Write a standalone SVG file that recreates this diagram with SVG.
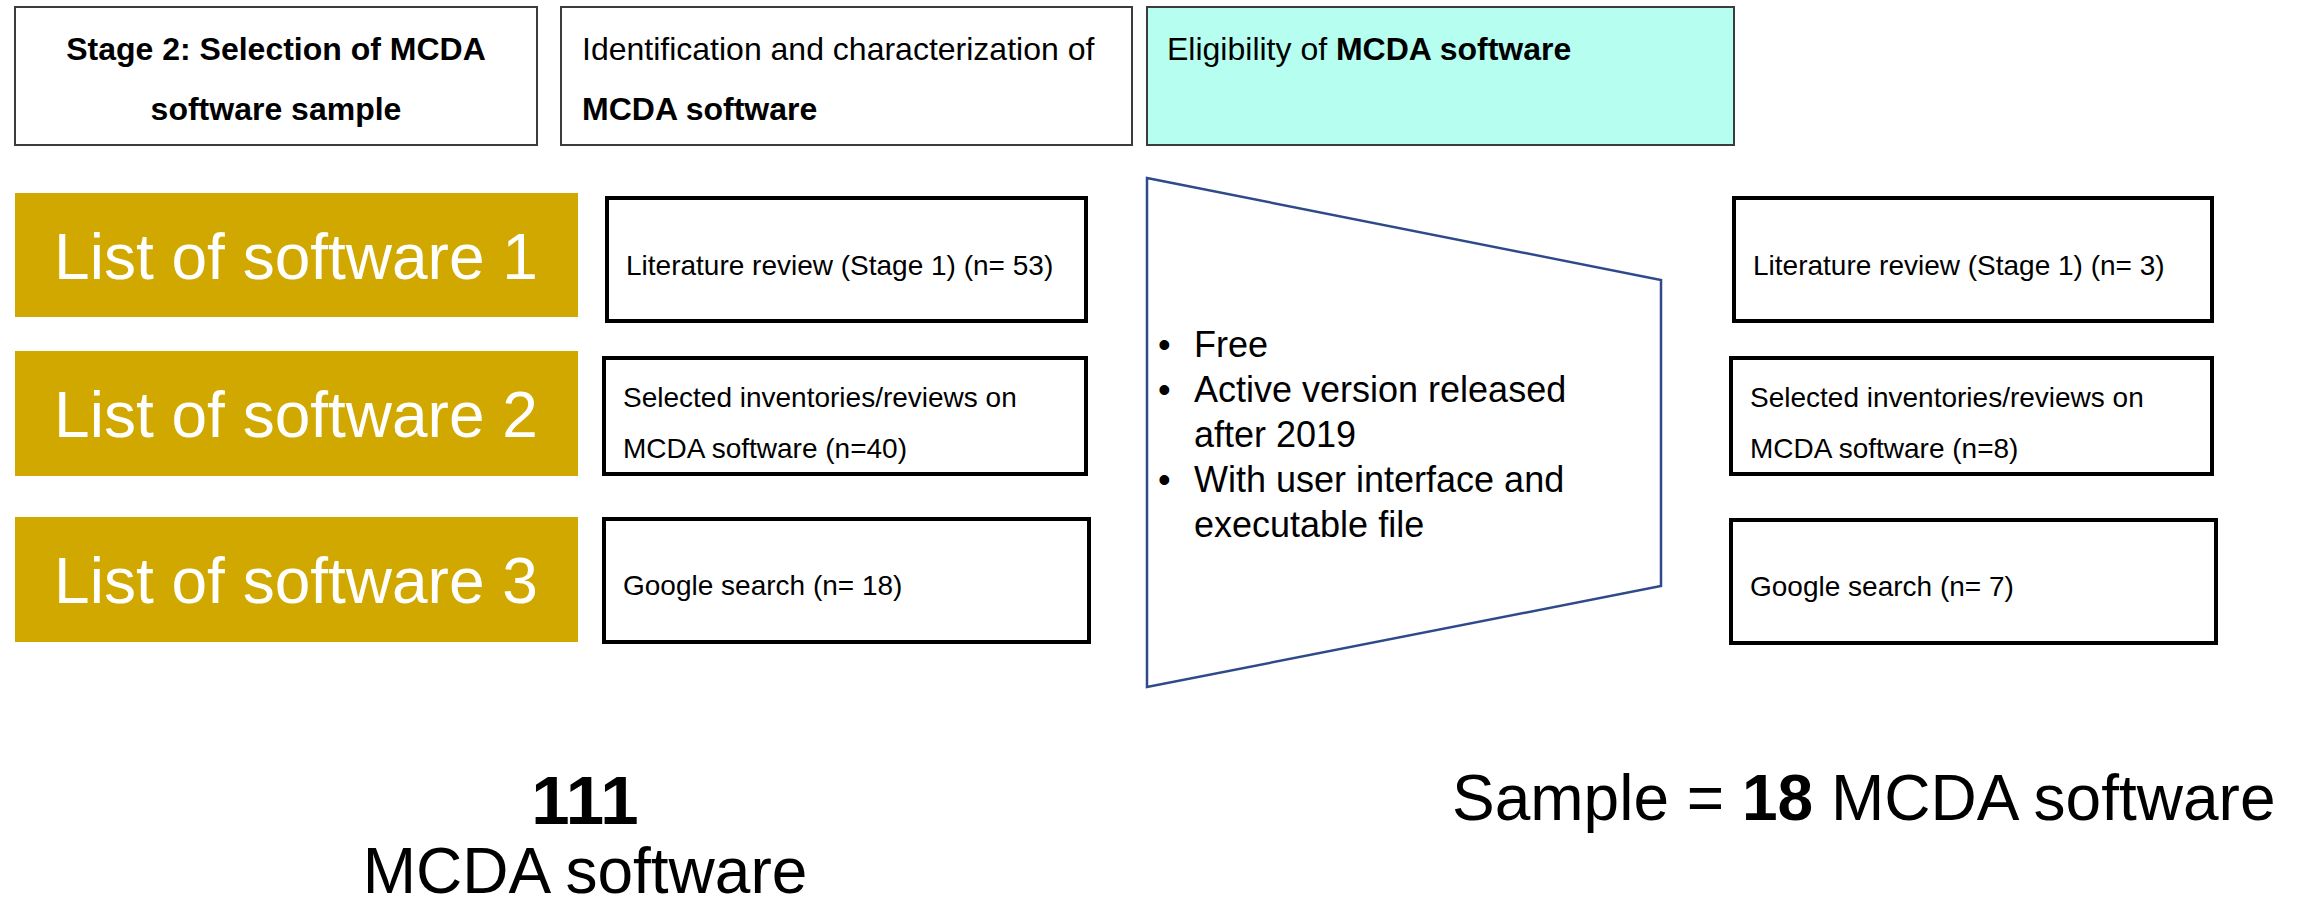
<svg xmlns="http://www.w3.org/2000/svg" width="2311" height="903" viewBox="0 0 2311 903">
<style>
  text { font-family: "Liberation Sans", Arial, sans-serif; fill: #000; }
  .hdr { fill: #fff; stroke: #3c3c3c; stroke-width: 2; }
  .hdrc { fill: #b5fef0; stroke: #3c3c3c; stroke-width: 2; }
  .gold { fill: #d1a800; }
  .gt { font-size: 64px; fill: #fff; text-anchor: middle; }
  .box { fill: #fff; stroke: #000; stroke-width: 4; }
  .bt { font-size: 28px; }
  .ht { font-size: 32px; }
  .b { font-weight: bold; }
  .li { font-size: 36px; }
  .big { font-size: 64px; }
</style>
<g id="header-stage">
  <rect class="hdr" x="15" y="7" width="522" height="138"/>
  <text class="ht b" x="276" y="60" text-anchor="middle">Stage 2: Selection of MCDA</text>
  <text class="ht b" x="276" y="120" text-anchor="middle">software sample</text>
</g>
<g id="header-identification">
  <rect class="hdr" x="561" y="7" width="571" height="138"/>
  <text class="ht" x="582" y="60">Identification and characterization of</text>
  <text class="ht b" x="582" y="120">MCDA software</text>
</g>
<g id="header-eligibility">
  <rect class="hdrc" x="1147" y="7" width="587" height="138"/>
  <text class="ht" x="1167" y="60">Eligibility of <tspan class="b">MCDA software</tspan></text>
</g>
<g id="list1">
  <rect class="gold" x="15" y="193" width="563" height="124"/>
  <text class="gt" x="296" y="279">List of software 1</text>
</g>
<g id="list2">
  <rect class="gold" x="15" y="351" width="563" height="125"/>
  <text class="gt" x="296" y="437">List of software 2</text>
</g>
<g id="list3">
  <rect class="gold" x="15" y="517" width="563" height="125"/>
  <text class="gt" x="296" y="603">List of software 3</text>
</g>
<g id="src-lit">
  <rect class="box" x="607" y="198" width="479" height="123"/>
  <text class="bt" x="626" y="275">Literature review (Stage 1) (n= 53)</text>
</g>
<g id="src-inv">
  <rect class="box" x="604" y="358" width="482" height="116"/>
  <text class="bt" x="623" y="407">Selected inventories/reviews on</text>
  <text class="bt" x="623" y="458">MCDA software (n=40)</text>
</g>
<g id="src-google">
  <rect class="box" x="604" y="519" width="485" height="123"/>
  <text class="bt" x="623" y="595">Google search (n= 18)</text>
</g>
<g id="filter">
  <polygon points="1147,178 1661,280 1661,586 1147,687" fill="#fff" stroke="#2e4a8b" stroke-width="2.5"/>
  <text class="li" x="1158" y="357">•</text>
  <text class="li" x="1194" y="357">Free</text>
  <text class="li" x="1158" y="402">•</text>
  <text class="li" x="1194" y="402">Active version released</text>
  <text class="li" x="1194" y="447">after 2019</text>
  <text class="li" x="1158" y="492">•</text>
  <text class="li" x="1194" y="492">With user interface and</text>
  <text class="li" x="1194" y="537">executable file</text>
</g>
<g id="res-lit">
  <rect class="box" x="1734" y="198" width="478" height="123"/>
  <text class="bt" x="1753" y="275">Literature review (Stage 1) (n= 3)</text>
</g>
<g id="res-inv">
  <rect class="box" x="1731" y="358" width="481" height="116"/>
  <text class="bt" x="1750" y="407">Selected inventories/reviews on</text>
  <text class="bt" x="1750" y="458">MCDA software (n=8)</text>
</g>
<g id="res-google">
  <rect class="box" x="1731" y="520" width="485" height="123"/>
  <text class="bt" x="1750" y="596">Google search (n= 7)</text>
</g>
<g id="total">
  <text class="b" style="font-size:69px" x="585" y="824" text-anchor="middle">111</text>
  <text class="big" x="585" y="893" text-anchor="middle">MCDA software</text>
</g>
<g id="sample">
  <text class="big" x="1452" y="820">Sample = <tspan class="b">18</tspan> MCDA software</text>
</g>
<g id="connectors"></g>
</svg>
